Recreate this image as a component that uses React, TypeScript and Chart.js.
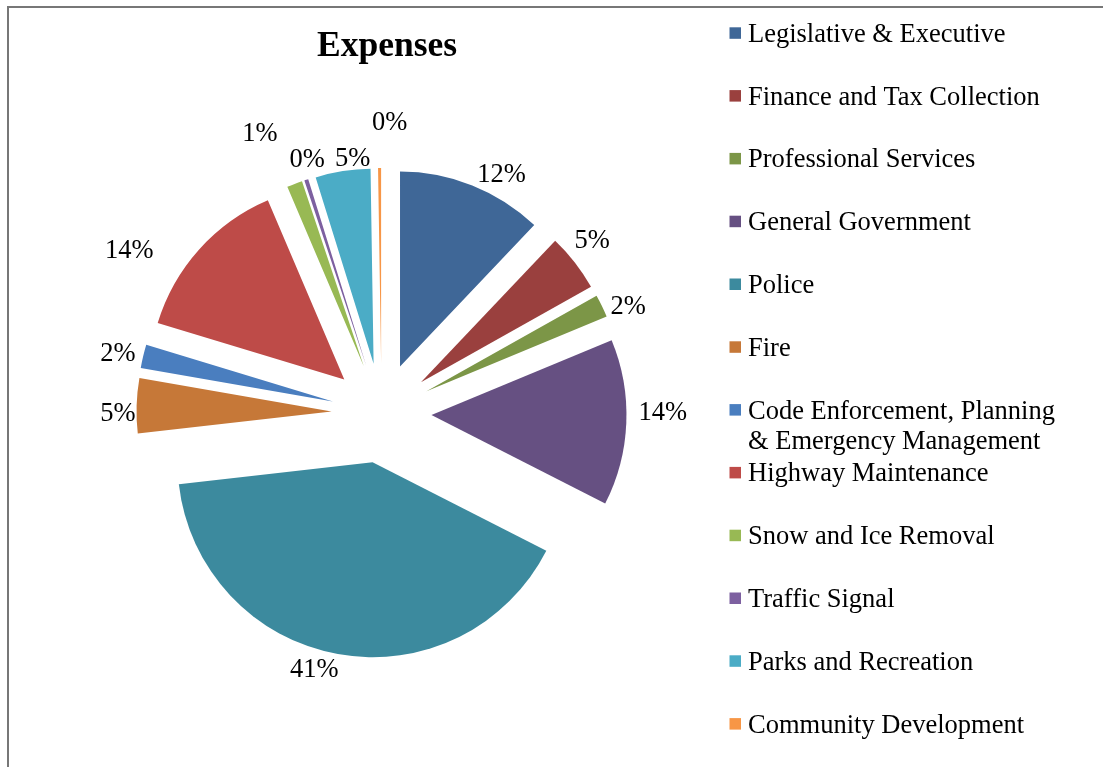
import { useEffect, useRef } from "react";
import { Chart, registerables } from "chart.js";

Chart.register(...registerables);

const chartTitle = "Expenses";

const categories = [
  "Legislative & Executive",
  "Finance and Tax Collection",
  "Professional Services",
  "General Government",
  "Police",
  "Fire",
  "Code Enforcement, Planning & Emergency Management",
  "Highway Maintenance",
  "Snow and Ice Removal",
  "Traffic Signal",
  "Parks and Recreation",
  "Community Development",
];

// share of total expenses (percent)
const expenseShares = [12.08, 4.78, 1.89, 13.75, 40.69, 4.55, 1.94, 13.9, 1.28, 0.33, 4.55, 0.25];

const sliceColors = [
  "#3F6797",
  "#9A403E",
  "#7C9647",
  "#665082",
  "#3C8A9E",
  "#C67838",
  "#4A7EBF",
  "#BE4B48",
  "#98B954",
  "#7D60A0",
  "#4BACC6",
  "#F79646",
];

// label placement tweaks: [angle shift in degrees, extra radial distance in px]
const labelNudges: [number, number][] = [
  [6, 0],
  [-2, 4],
  [3, -1],
  [-3, 4],
  [5.5, -2],
  [-2, -7],
  [-0.7, 0],
  [-10.8, 28],
  [-3.2, 39],
  [2, -1],
  [3.3, -9],
  [2.5, 26],
];

const FONT = "'Liberation Serif', 'Times New Roman', serif";
const EXPLODE = 50;
const RADIUS = 195;

function wrapText(ctx: CanvasRenderingContext2D, text: string, maxW: number): string[] {
  const words = text.split(" ");
  const lines: string[] = [];
  let cur = "";
  for (const w of words) {
    const test = cur ? cur + " " + w : w;
    if (ctx.measureText(test).width > maxW && cur) {
      lines.push(cur);
      cur = w;
    } else {
      cur = test;
    }
  }
  if (cur) lines.push(cur);
  return lines;
}

export default function App() {
  const ref = useRef<HTMLCanvasElement | null>(null);

  useEffect(() => {
    const canvas = ref.current;
    if (!canvas) return;

    const explodePlugin = {
      id: "explodeAndLabels",
      beforeDatasetDraw(chart: any, args: any) {
        const ctx = chart.ctx as CanvasRenderingContext2D;
        args.meta.data.forEach((arc: any) => {
          const mid = (arc.startAngle + arc.endAngle) / 2;
          ctx.save();
          ctx.translate(Math.cos(mid) * EXPLODE, Math.sin(mid) * EXPLODE);
          arc.draw(ctx);
          ctx.restore();
        });
        return false;
      },
      afterDatasetsDraw(chart: any) {
        const ctx = chart.ctx as CanvasRenderingContext2D;
        const meta = chart.getDatasetMeta(0);
        const values: number[] = chart.data.datasets[0].data;
        const total = values.reduce((a, b) => a + b, 0);
        ctx.save();
        ctx.font = `26.5px ${FONT}`;
        ctx.fillStyle = "#000";
        ctx.textAlign = "center";
        ctx.textBaseline = "middle";
        meta.data.forEach((arc: any, i: number) => {
          const mid = (arc.startAngle + arc.endAngle) / 2;
          const ax = arc.x + Math.cos(mid) * EXPLODE;
          const ay = arc.y + Math.sin(mid) * EXPLODE;
          const txt = Math.round((values[i] / total) * 100) + "%";
          const hw = ctx.measureText(txt).width / 2;
          const hh = 13;
          const [dA, dR] = labelNudges[i] || [0, 0];
          const ang = mid + (dA * Math.PI) / 180;
          const dx = Math.cos(mid);
          const dy = Math.sin(mid);
          const ell = Math.sqrt((dx * hw) ** 2 + (dy * hh) ** 2);
          const dist = RADIUS + 8 + ell + dR;
          ctx.fillText(txt, ax + Math.cos(ang) * dist, ay + Math.sin(ang) * dist + 1.5);
        });
        ctx.restore();
      },
      afterDraw(chart: any) {
        const ctx = chart.ctx as CanvasRenderingContext2D;
        ctx.save();
        // title
        ctx.font = `bold 35.5px ${FONT}`;
        ctx.fillStyle = "#000";
        ctx.textAlign = "center";
        ctx.textBaseline = "alphabetic";
        ctx.fillText(chartTitle, 387, 56);
        // legend
        ctx.font = `26.5px ${FONT}`;
        ctx.textAlign = "left";
        ctx.textBaseline = "middle";
        const labels: string[] = chart.data.labels;
        const colors: string[] = chart.data.datasets[0].backgroundColor;
        labels.forEach((lab, i) => {
          const y = 32.8 + 62.8 * i;
          ctx.fillStyle = colors[i];
          ctx.fillRect(729.5, y - 5.5, 11.5, 11.5);
          ctx.fillStyle = "#000";
          const lines = wrapText(ctx, lab, 320);
          lines.forEach((ln, j) => ctx.fillText(ln, 748, y + 2 + j * 30));
        });
        ctx.restore();
      },
    };

    const chart = new Chart(canvas, {
      type: "pie",
      data: {
        labels: categories,
        datasets: [
          {
            data: expenseShares,
            backgroundColor: sliceColors,
            borderWidth: 0,
            offset: 0,
            hoverOffset: 0,
          },
        ],
      },
      options: {
        animation: false,
        responsive: false,
        maintainAspectRatio: false,
        devicePixelRatio: 1,
        radius: RADIUS,
        layout: { padding: { left: 0, right: 340, top: 59, bottom: 0 } },
        events: [],
        plugins: {
          legend: { display: false },
          title: { display: false },
          tooltip: { enabled: false },
        },
      } as any,
      plugins: [explodePlugin],
    });

    return () => chart.destroy();
  }, []);

  return (
    <div style={{ position: "absolute", left: 0, top: 0, width: 1103, height: 767, background: "#fff" }}>
      <div
        style={{
          position: "absolute",
          left: 7,
          top: 6,
          width: 1094,
          height: 759,
          borderLeft: "2px solid #777",
          borderTop: "2px solid #777",
        }}
      />
      <canvas
        ref={ref}
        width={1103}
        height={767}
        style={{ position: "absolute", left: 0, top: 0, display: "block" }}
      />
    </div>
  );
}
